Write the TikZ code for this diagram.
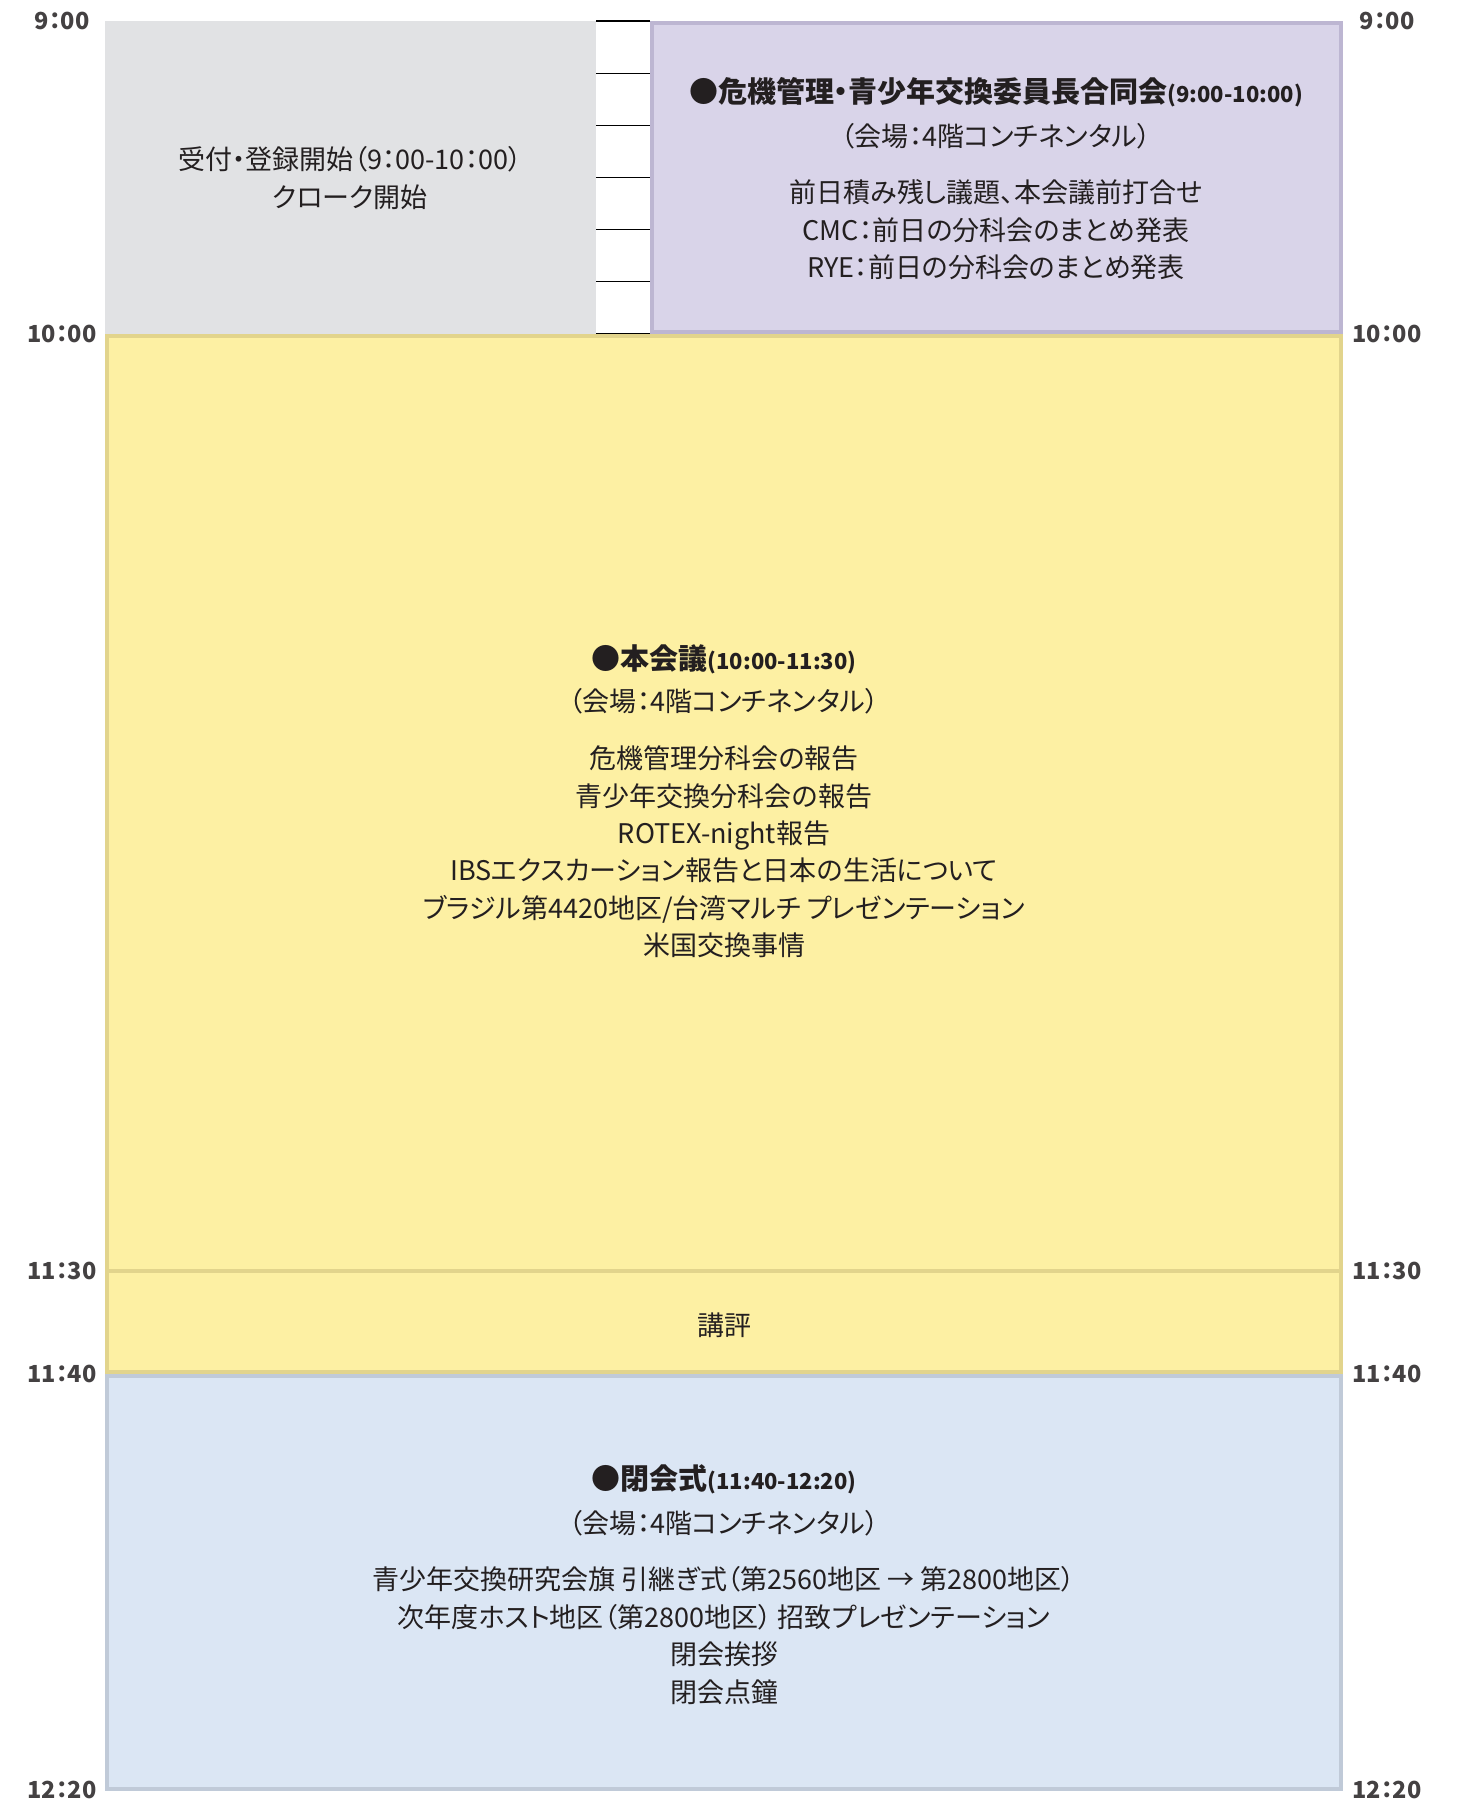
\documentclass[tikz,border=0pt]{standalone}
\usepackage{fontspec}
\setmainfont{Noto Sans CJK JP}[RawFeature=+palt]
\usepackage{tikz}
\definecolor{regfill}{HTML}{E1E2E4}
\definecolor{jointfill}{HTML}{D9D4E9}
\definecolor{jointline}{HTML}{BDB6D2}
\definecolor{plenfill}{HTML}{FDF0A3}
\definecolor{plenline}{HTML}{E2D48C}
\definecolor{closefill}{HTML}{DBE6F4}
\definecolor{closeline}{HTML}{C0CAD8}
\definecolor{inktext}{HTML}{231F20}

\begin{document}
\begin{tikzpicture}[x=1pt,y=-1pt,every text node part/.style={align=center},
slot/.style={rectangle, anchor=north west, line width=4pt, inner sep=0pt, outer sep=0pt},
tlabel/.style={font=\bfseries\fontsize{23.5}{23.5}\selectfont, text=inktext!85, inner sep=0pt},
headline/.style={font=\bfseries\fontsize{29}{29}\selectfont, text=inktext, inner sep=0pt},
venue/.style={font=\fontsize{27}{27}\selectfont, text=inktext, inner sep=0pt},
itemlist/.style={font=\fontsize{27}{37.4}\selectfont, text=inktext, inner sep=0pt}]
\useasboundingbox (0,0) rectangle (1456,1803);
\node[slot, fill=regfill, minimum width=491pt, minimum height=312.5pt] (regbox) at (105,21) {};
\node[slot, fill=jointfill, draw=jointline, minimum width=689pt, minimum height=308.5pt] (jointbox) at (652,23) {};
\node[slot, fill=plenfill, draw=plenline, minimum width=1234pt, minimum height=935.5pt] (plenbox) at (107,335.5) {};
\node[slot, fill=plenfill, draw=plenline, minimum width=1234pt, minimum height=101pt] (reviewbox) at (107,1271) {};
\node[slot, fill=closefill, draw=closeline, minimum width=1234pt, minimum height=412.6pt] (closebox) at (107,1376) {};
\foreach \k in {0,...,6}
  \draw[line width=1.1pt] (596,21+52.1*\k) -- (650,21+52.1*\k);
\foreach \y/\n/\t in {21/a/9：00, 333.5/b/10：00, 1271/c/11：30, 1374/d/11：40, 1790/e/12：20}{
  \node[tlabel] (left\n) at (62,\y) {\t};
  \node[tlabel] (right\n) at (1387,\y) {\t};
}
\node[itemlist] (regtext) at (350,178) {受付・登録開始（9：00-10：00）\\クローク開始};
\node[headline] (jointtitle) at (996,92) {●危機管理・青少年交換委員長合同会{\fontsize{22}{22}\selectfont(9:00-10:00)}};
\node[venue] (jointvenue) at (996,136) {（会場：4階コンチネンタル）};
\node[itemlist] (jointitems) at (996,229.7) {前日積み残し議題、本会議前打合せ\\CMC：前日の分科会のまとめ発表\\RYE：前日の分科会のまとめ発表};
\node[headline] (plentitle) at (724,659) {●本会議{\fontsize{22}{22}\selectfont(10:00-11:30)}};
\node[venue] (plenvenue) at (724,701.5) {（会場：4階コンチネンタル）};
\node[itemlist] (plenitems) at (724,852) {危機管理分科会の報告\\青少年交換分科会の報告\\ROTEX-night報告\\IBSエクスカーション報告と日本の生活について\\ブラジル第4420地区/台湾マルチ プレゼンテーション\\米国交換事情};
\node[venue] (review) at (724,1325) {講評};
\node[headline] (closetitle) at (724,1479) {●閉会式{\fontsize{22}{22}\selectfont(11:40-12:20)}};
\node[venue] (closevenue) at (724,1523) {（会場：4階コンチネンタル）};
\node[itemlist] (closeitems) at (724,1635.5) {青少年交換研究会旗 引継ぎ式（第2560地区 → 第2800地区）\\次年度ホスト地区（第2800地区） 招致プレゼンテーション\\閉会挨拶\\閉会点鐘};
\end{tikzpicture}
\end{document}
